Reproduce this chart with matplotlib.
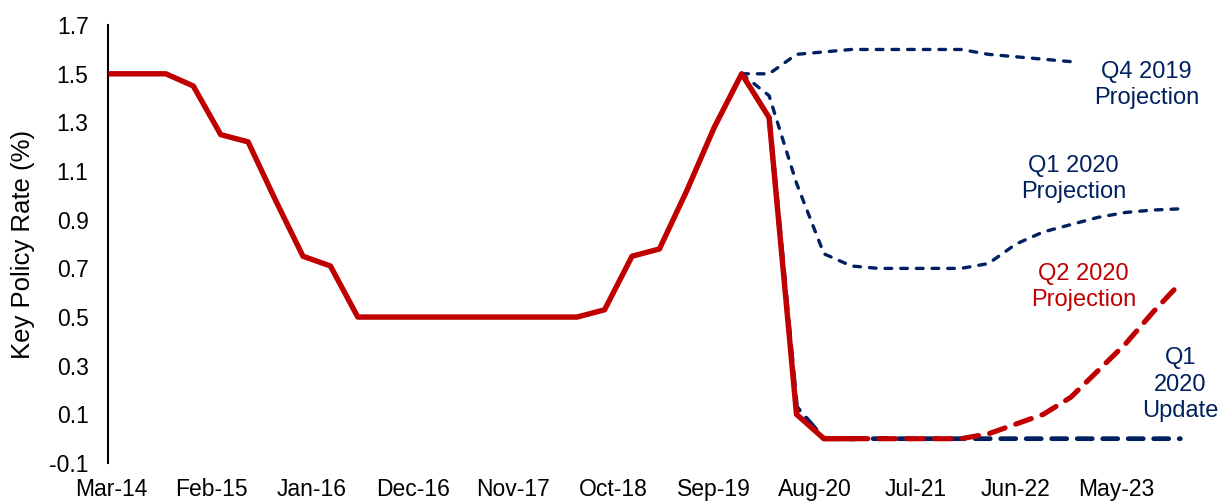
import matplotlib.pyplot as plt
import numpy as np

plt.rcParams['font.family'] = ['Liberation Sans', 'DejaVu Sans']

red = "#C00000"
navy = "#002060"

# quarterly values, first quarter is Mar-14
actual = [1.5, 1.5, 1.5, 1.45, 1.25, 1.22, 0.98, 0.75, 0.71,
          0.5, 0.5, 0.5, 0.5, 0.5, 0.5, 0.5, 0.5, 0.5,
          0.53, 0.75, 0.78, 1.02, 1.28, 1.5, 1.32, 0.1, 0.0, 0.0]
q4_2019 = [1.5, 1.5, 1.58, 1.59, 1.6, 1.6, 1.6, 1.6, 1.6, 1.58, 1.57, 1.56, 1.55]
q1_2020 = [1.5, 1.41, 1.05, 0.76, 0.71, 0.7, 0.7, 0.7, 0.7, 0.72, 0.8, 0.85,
           0.88, 0.91, 0.93, 0.94, 0.945]
q1_2020_upd = [1.5, 1.32, 0.13, 0.0, 0.0, 0.0, 0.0, 0.0, 0.0, 0.0, 0.0, 0.0,
               0.0, 0.0, 0.0, 0.0, 0.0]
q2_2020 = [0.0, 0.0, 0.0, 0.0, 0.0, 0.02, 0.06, 0.1, 0.17, 0.28, 0.39, 0.52, 0.64]

tick_labels = ["Mar-14", "Feb-15", "Jan-16", "Dec-16", "Nov-17", "Oct-18",
               "Sep-19", "Aug-20", "Jul-21", "Jun-22", "May-23"]

def months(start, vals):
    # x position in months after Mar-14
    return 3 * (start + np.arange(len(vals)))

fig = plt.figure(figsize=(12.26, 5.03), dpi=100)
ax = fig.add_axes([0.0881, 0.0795, 0.909, 0.8705])

ax.plot(months(23, q1_2020_upd), q1_2020_upd, color=navy, lw=3.4,
        dashes=(3.2, 2.2), dash_capstyle="round", zorder=2)
ax.plot(months(0, actual), actual, color=red, lw=3.9, zorder=3)
ax.plot(months(27, q2_2020), q2_2020, color=red, lw=3.7,
        dashes=(3.2, 2.2), dash_capstyle="round", zorder=4)
ax.plot(months(23, q4_2019), q4_2019, color=navy, lw=2.4,
        dashes=(2.0, 2.7), dash_capstyle="round", zorder=2)
ax.plot(months(23, q1_2020), q1_2020, color=navy, lw=2.4,
        dashes=(2.0, 2.7), dash_capstyle="round", zorder=2)

fs = 16.5
note_fs = 17
ax.text(113.3, 1.454, "Q4 2019\nProjection", color=navy, fontsize=note_fs,
        ha="center", va="center", linespacing=1.25)
ax.text(105.3, 1.068, "Q1 2020\nProjection", color=navy, fontsize=note_fs,
        ha="center", va="center", linespacing=1.25)
ax.text(106.4, 0.624, "Q2 2020\nProjection", color=red, fontsize=note_fs,
        ha="center", va="center", linespacing=1.25)
ax.text(117.0, 0.222, "Q1\n2020\nUpdate", color=navy, fontsize=note_fs,
        ha="center", va="center", linespacing=1.25)

ax.set_xlim(-0.33, 121.6)
ax.set_ylim(-0.1, 1.7)
ax.set_yticks(np.arange(-0.1, 1.71, 0.2))
ax.set_yticklabels(["%.1f" % v for v in np.arange(-0.1, 1.71, 0.2)])
ax.set_xticks(11 * np.arange(len(tick_labels)))
ax.set_xticklabels(tick_labels)
ax.tick_params(axis="y", length=0, pad=14, labelsize=fs)
ax.tick_params(axis="x", length=0, pad=11, labelsize=fs)

ax.set_ylabel("Key Policy Rate (%)", fontsize=18.5)
ax.yaxis.set_label_coords(-0.0655, 0.5)

for s in ["top", "right", "bottom"]:
    ax.spines[s].set_visible(False)
ax.spines["left"].set_linewidth(1.5)

fig.savefig("out.png", dpi=100)
